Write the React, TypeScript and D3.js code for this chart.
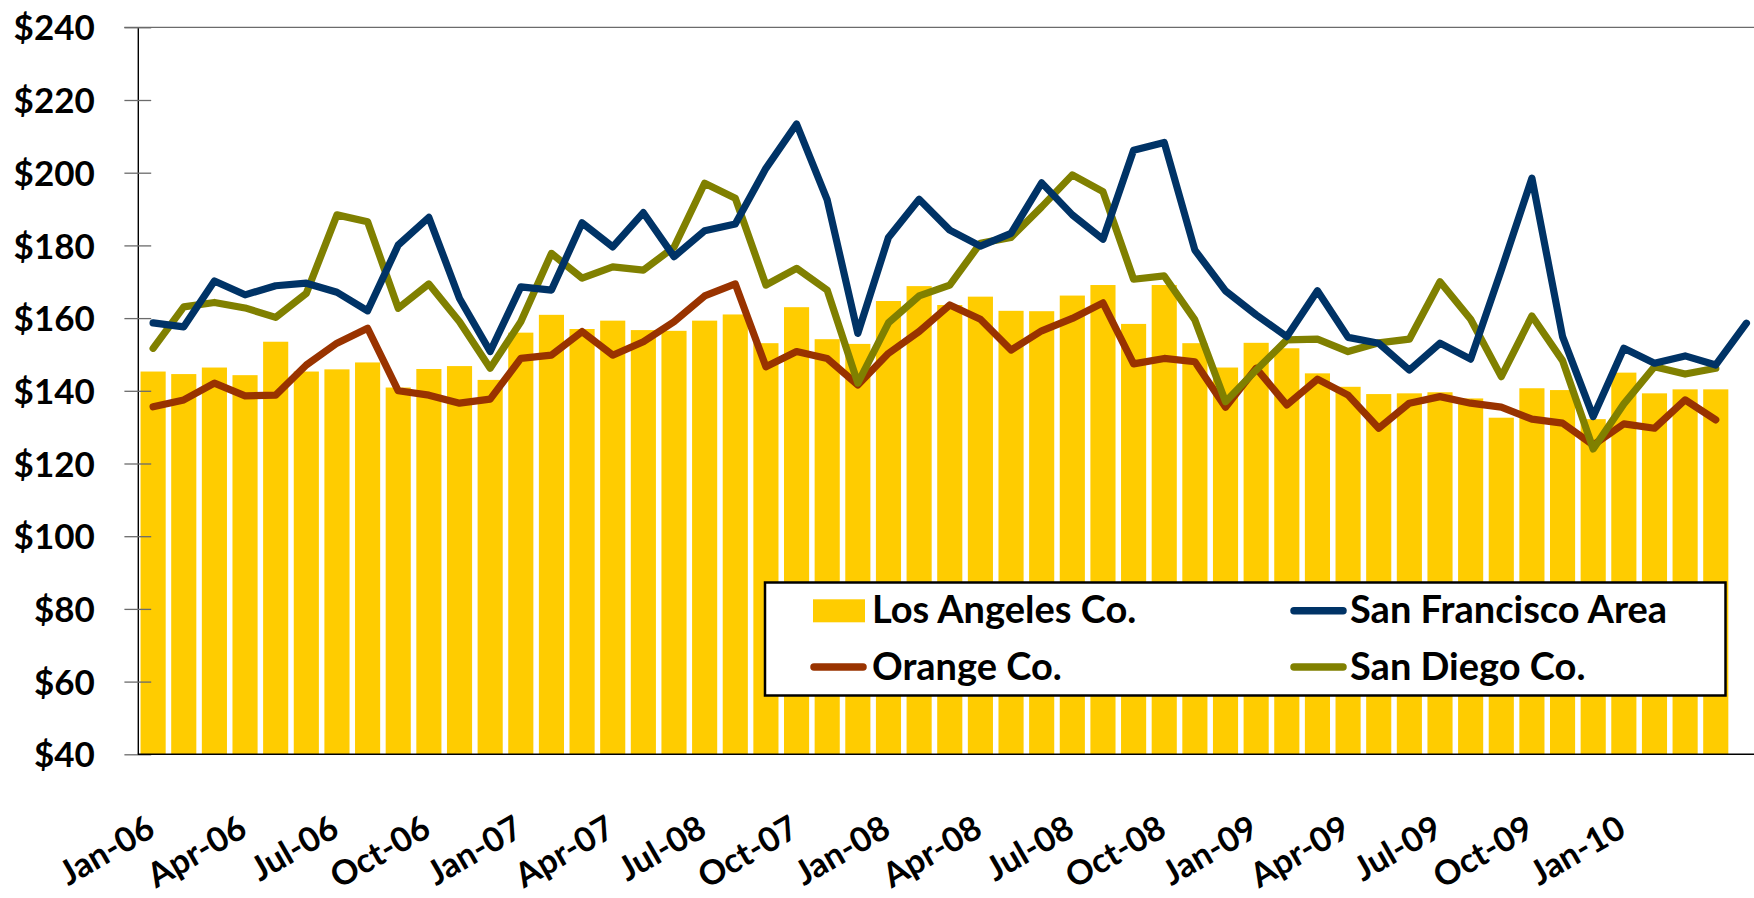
import React, { useEffect, useRef } from "react";
import * as d3 from "d3";

// monthly categories Jan-06 .. May-10
const months = d3.utcMonths(new Date(Date.UTC(2006, 0, 1)), new Date(Date.UTC(2010, 5, 1)))
    .map(d3.utcFormat("%b-%y"));

// tick positions (every 3rd month) and the labels as printed on the chart
const tickKeys = ["Jan-06", "Apr-06", "Jul-06", "Oct-06", "Jan-07", "Apr-07", "Jul-07", "Oct-07",
    "Jan-08", "Apr-08", "Jul-08", "Oct-08", "Jan-09", "Apr-09", "Jul-09", "Oct-09", "Jan-10"];
const tickLabels = ["Jan-06", "Apr-06", "Jul-06", "Oct-06", "Jan-07", "Apr-07", "Jul-08", "Oct-07",
    "Jan-08", "Apr-08", "Jul-08", "Oct-08", "Jan-09", "Apr-09", "Jul-09", "Oct-09", "Jan-10"];

const yTicks = [40, 60, 80, 100, 120, 140, 160, 180, 200, 220, 240];

const losAngeles = [
    145.3, 144.6, 146.4, 144.3, 153.5, 145.3, 145.9, 147.8, 140.9, 146.0, 146.8, 143.0, 156.0, 160.9, 157.0,
    159.3, 156.7, 156.5, 159.3, 161.0, 153.1, 163.0, 154.2, 152.9, 164.7, 168.8, 163.6, 165.9, 162.0, 161.9,
    166.2, 169.1, 158.4, 169.1,
    153.1, 146.4, 153.2, 151.7, 144.8, 141.1, 139.1, 139.3, 139.6, 137.9, 132.6, 140.7, 140.2, 132.2, 145.0,
    139.3, 140.4, 140.4
];

const sanFrancisco = [
    158.7, 157.6, 170.2, 166.4, 168.9, 169.6, 167.1, 162.0, 180.1, 187.7, 165.4, 150.8, 168.6, 167.7, 186.2,
    179.6, 189.0, 176.9, 184.0, 185.9, 201.2, 213.4, 192.5, 155.8, 182.2, 192.7, 184.2, 179.8, 183.3, 197.2,
    188.4, 181.7, 206.2, 208.3,
    178.7, 167.5, 160.9, 154.9, 167.5, 154.7, 153.1, 145.7, 153.1, 148.7, 173.2, 198.5, 154.9, 132.9, 151.7,
    147.6, 149.6, 147.1, 158.6
];

const orange = [
    135.6, 137.5, 142.1, 138.6, 138.8, 147.1, 153.1, 157.2, 140.0, 138.8, 136.6, 137.7, 148.9, 149.8, 156.3,
    149.8, 153.5, 159.0, 166.1, 169.4, 146.6, 150.8, 148.9, 141.6, 150.3, 156.3, 163.6, 159.7, 151.2, 156.5,
    159.9, 164.2, 147.4, 148.9,
    148.0, 135.5, 146.2, 136.1, 143.2, 138.8, 129.7, 136.6, 138.4, 136.6, 135.5, 132.2, 131.1, 125.1, 130.9,
    129.7, 137.5, 132.0
];

const sanDiego = [
    151.7, 163.1, 164.3, 162.8, 160.2, 166.8, 188.4, 186.5, 162.7, 169.4, 159.0, 146.2, 159.0, 177.8, 171.0,
    174.1, 173.2, 179.5, 197.1, 193.0, 169.1, 173.7, 167.7, 142.1, 158.7, 166.1, 169.1, 180.6, 182.2, 190.6,
    199.4, 194.8, 170.7, 171.6,
    159.5, 137.0, 145.7, 154.0, 154.2, 150.8, 153.2, 154.2, 170.0, 159.7, 143.9, 160.6, 148.3, 124.0, 136.4,
    146.6, 144.6, 146.2
];

const lineSeries = [
    { name: "Orange Co.", values: orange, color: "#993300" },
    { name: "San Diego Co.", values: sanDiego, color: "#808000" },
    { name: "San Francisco Area", values: sanFrancisco, color: "#003366" },
];

const WIDTH = 1754;
const HEIGHT = 898;
const FONT = "Lato, 'Open Sans', 'DejaVu Sans', sans-serif";

const Chart = () => {
    const ref = useRef(null);

    useEffect(() => {
        const svg = d3.select(ref.current);
        svg.selectAll("*").remove();

        const left = 137.8, top = 27.3, bottom = 754.3;
        const step = 30.64;

        const xScale = d3.scaleBand()
            .domain(months)
            .range([left, left + step * months.length])
            .paddingInner(0.18)
            .paddingOuter(0.09);

        const yScale = d3.scaleLinear()
            .domain([40, 240])
            .range([bottom, top]);

        const cx = i => xScale(months[i]) + xScale.bandwidth() / 2;

        // top border of the plot
        svg.append("line")
            .attr("x1", left - 13.5).attr("x2", WIDTH)
            .attr("y1", yScale(240)).attr("y2", yScale(240))
            .attr("stroke", "#6b6b6b").attr("stroke-width", 1.3);

        // bars
        svg.append("g").selectAll("rect")
            .data(losAngeles)
            .enter().append("rect")
                .attr("x", (d, i) => xScale(months[i]))
                .attr("y", d => yScale(d))
                .attr("width", xScale.bandwidth())
                .attr("height", d => bottom - yScale(d))
                .attr("fill", "#FFCC00");

        // lines
        const line = d3.line()
            .x((d, i) => cx(i))
            .y(d => yScale(d));

        svg.append("g").selectAll("path")
            .data(lineSeries)
            .enter().append("path")
                .attr("d", s => line(s.values))
                .attr("fill", "none")
                .attr("stroke", s => s.color)
                .attr("stroke-width", 7.2)
                .attr("stroke-linejoin", "round")
                .attr("stroke-linecap", "round");

        // y axis
        const yAxisG = svg.append("g")
            .attr("transform", `translate(${left},0)`)
            .call(d3.axisLeft(yScale)
                .tickValues(yTicks)
                .tickSize(13.4)
                .tickSizeOuter(0)
                .tickFormat(d => `$${d}`));

        yAxisG.select(".domain")
            .attr("stroke", "#000")
            .attr("stroke-width", 1.4);

        yAxisG.selectAll(".tick line")
            .attr("x1", -13.4)
            .attr("x2", 13.4)
            .attr("stroke", "#6b6b6b")
            .attr("stroke-width", 1.3);

        yAxisG.selectAll(".tick text")
            .attr("x", -43)
            .attr("dy", "0.36em")
            .attr("font-family", FONT)
            .attr("font-weight", "bold")
            .attr("font-size", 35)
            .attr("fill", "#000");

        // x axis line
        svg.append("line")
            .attr("x1", left).attr("x2", WIDTH)
            .attr("y1", bottom).attr("y2", bottom)
            .attr("stroke", "#000").attr("stroke-width", 1.4);

        // x tick labels
        svg.append("g").selectAll("text")
            .data(tickKeys)
            .enter().append("text")
                .attr("transform", d => `translate(${cx(months.indexOf(d)) + 4},${835}) rotate(-30)`)
                .attr("text-anchor", "end")
                .attr("font-family", FONT)
                .attr("font-weight", "bold")
                .attr("font-size", 34)
                .text((d, i) => tickLabels[i]);

        // legend
        const legend = svg.append("g");
        legend.append("rect")
            .attr("x", 765).attr("y", 582.5)
            .attr("width", 960.5).attr("height", 113)
            .attr("fill", "#fff")
            .attr("stroke", "#000")
            .attr("stroke-width", 2.5);

        const items = [
            { name: "Los Angeles Co.", color: "#FFCC00", bar: true, x: 810, tx: 872, y: 610.8 },
            { name: "Orange Co.", color: "#993300", bar: false, x: 810, tx: 872, y: 667 },
            { name: "San Francisco Area", color: "#003366", bar: false, x: 1290, tx: 1350, y: 610.8 },
            { name: "San Diego Co.", color: "#808000", bar: false, x: 1290, tx: 1350, y: 667 },
        ];

        items.forEach(it => {
            if (it.bar) {
                legend.append("rect")
                    .attr("x", it.x + 3).attr("y", it.y - 11.5)
                    .attr("width", 52).attr("height", 23)
                    .attr("fill", it.color);
            } else {
                legend.append("line")
                    .attr("x1", it.x + 4).attr("x2", it.x + 53)
                    .attr("y1", it.y).attr("y2", it.y)
                    .attr("stroke", it.color)
                    .attr("stroke-width", 7.5)
                    .attr("stroke-linecap", "round");
            }
            legend.append("text")
                .attr("x", it.tx)
                .attr("y", it.y + 12.5)
                .attr("font-family", FONT)
                .attr("font-weight", "bold")
                .attr("font-size", 38)
                .text(it.name);
        });
    }, []);

    return (
        <svg ref={ref} width={WIDTH} height={HEIGHT}
            style={{ position: "absolute", left: 0, top: 0, background: "#fff" }} />
    );
};

export default function App() {
    return <Chart />;
}
